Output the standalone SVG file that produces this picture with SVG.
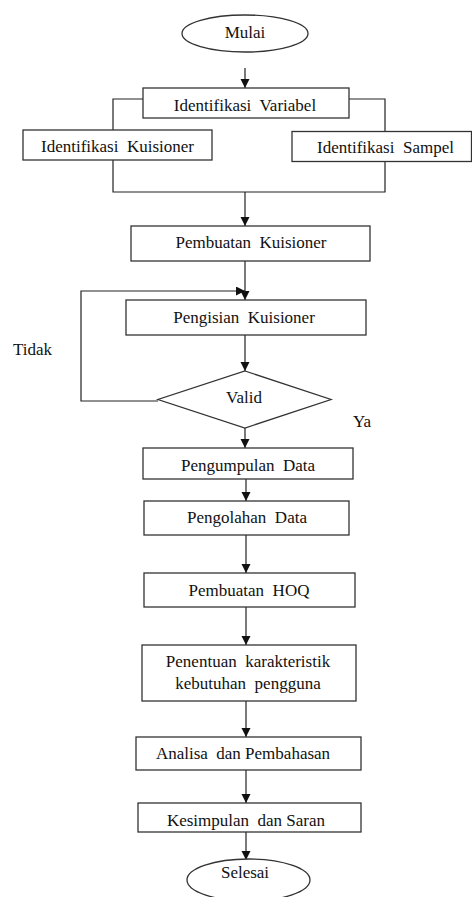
<svg xmlns="http://www.w3.org/2000/svg" width="472" height="897" viewBox="0 0 472 897">
<defs>
<marker id="arr" markerUnits="userSpaceOnUse" markerWidth="10" markerHeight="10" refX="9" refY="4.5" orient="auto">
<path d="M0,0 L9,4.5 L0,9 Z" fill="#111"/>
</marker>
<style>
.box{fill:#fff;stroke:#333;stroke-width:1.3}
.ln{fill:none;stroke:#222;stroke-width:1.2}
.t{font-family:"Liberation Serif","Times New Roman",serif;font-size:17px;fill:#111;text-anchor:middle}
.tl{font-family:"Liberation Serif","Times New Roman",serif;font-size:17px;fill:#111}
</style>
</defs>
<rect width="472" height="897" fill="#fff"/>
<g id="connectors">
<path class="ln" d="M245,68 V88" marker-end="url(#arr)"/>
<path class="ln" d="M143,99 H113 V130"/>
<path class="ln" d="M349,99 H385 V131.5"/>
<path class="ln" d="M113,160 V192 H385 V162"/>
<path class="ln" d="M245,192 V226" marker-end="url(#arr)"/>
<path class="ln" d="M245,261 V300" marker-end="url(#arr)"/>
<path class="ln" d="M158,401 H81 V291 H245" marker-end="url(#arr)"/>
<path class="ln" d="M245,335 V371" marker-end="url(#arr)"/>
<path class="ln" d="M245,428 V448" marker-end="url(#arr)"/>
<path class="ln" d="M246,479 V501" marker-end="url(#arr)"/>
<path class="ln" d="M246,535 V573" marker-end="url(#arr)"/>
<path class="ln" d="M246,607 V645" marker-end="url(#arr)"/>
<path class="ln" d="M246,701 V737" marker-end="url(#arr)"/>
<path class="ln" d="M246,770 V803" marker-end="url(#arr)"/>
<path class="ln" d="M246,832 V860" marker-end="url(#arr)"/>
</g>
<g id="mulai"><ellipse class="box" cx="245" cy="33.5" rx="63" ry="18.5"/><text class="t" x="245" y="38">Mulai</text></g>
<g id="identifikasi-variabel"><rect class="box" x="143" y="88" width="206" height="30"/><text class="t" x="245" y="111" xml:space="preserve">Identifikasi  Variabel</text></g>
<g id="identifikasi-kuisioner"><rect class="box" x="23" y="130" width="189" height="30"/><text class="t" x="117.5" y="152" xml:space="preserve">Identifikasi  Kuisioner</text></g>
<g id="identifikasi-sampel"><rect class="box" x="292" y="131.5" width="179.5" height="30"/><text class="t" x="385.5" y="153" xml:space="preserve">Identifikasi  Sampel</text></g>
<g id="pembuatan-kuisioner"><rect class="box" x="131" y="226" width="239" height="35"/><text class="t" x="251" y="248" xml:space="preserve">Pembuatan  Kuisioner</text></g>
<g id="pengisian-kuisioner"><rect class="box" x="126" y="300" width="240" height="35"/><text class="t" x="244" y="323" xml:space="preserve">Pengisian  Kuisioner</text></g>
<g id="valid"><polygon class="box" points="245,371 331,399.5 245,428 158,399.5"/><text class="t" x="244" y="403">Valid</text></g>
<g id="label-tidak"><text class="tl" x="13" y="355">Tidak</text></g>
<g id="label-ya"><text class="tl" x="353" y="427">Ya</text></g>
<g id="pengumpulan-data"><rect class="box" x="143" y="448" width="210" height="31"/><text class="t" x="248" y="471" xml:space="preserve">Pengumpulan  Data</text></g>
<g id="pengolahan-data"><rect class="box" x="144" y="501" width="205" height="34"/><text class="t" x="247" y="523" xml:space="preserve">Pengolahan  Data</text></g>
<g id="pembuatan-hoq"><rect class="box" x="144" y="573" width="211" height="34"/><text class="t" x="249" y="596" xml:space="preserve">Pembuatan  HOQ</text></g>
<g id="penentuan"><rect class="box" x="142" y="645" width="214" height="56"/><text class="t" x="248" y="667" xml:space="preserve">Penentuan  karakteristik</text><text class="t" x="248" y="689" xml:space="preserve">kebutuhan  pengguna</text></g>
<g id="analisa"><rect class="box" x="136" y="737" width="225" height="33"/><text class="t" x="243" y="759" xml:space="preserve">Analisa  dan Pembahasan</text></g>
<g id="kesimpulan"><rect class="box" x="138" y="803" width="223" height="29"/><text class="t" x="246" y="826" xml:space="preserve">Kesimpulan  dan Saran</text></g>
<g id="selesai"><ellipse class="box" cx="248.5" cy="880" rx="61.5" ry="21"/><text class="t" x="245" y="878">Selesai</text></g>
</svg>
